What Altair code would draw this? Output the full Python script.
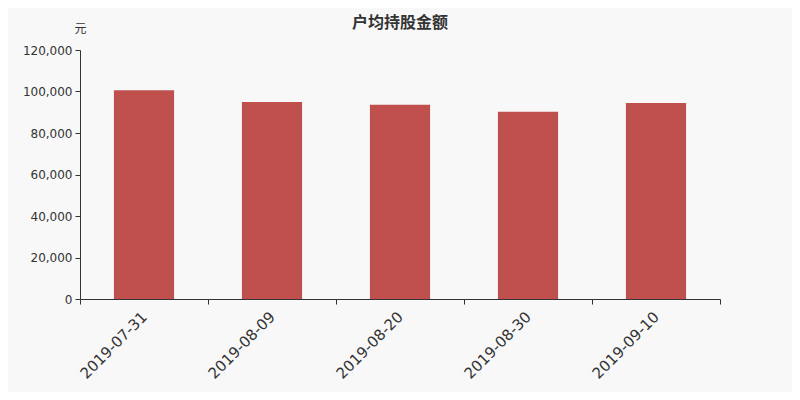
import altair as alt
import pandas as pd

dates = ["2019-07-31", "2019-08-09", "2019-08-20", "2019-08-30", "2019-09-10"]
values = [100600, 94900, 93600, 90200, 94500]

df = pd.DataFrame({"date": dates, "value": values})

FONT = "Noto Sans CJK SC"
LFONT = "DejaVu Sans"

chart = alt.Chart(df).mark_bar(color="#c0504d", width={"band": 0.47}).encode(
    x=alt.X("date:N", sort=dates,
            scale=alt.Scale(paddingInner=0, paddingOuter=0),
            axis=alt.Axis(title=None, labelAngle=-45, labelAlign="right",
                          labelBaseline="middle", labelFontSize=15,
                          labelColor="#333333", labelFont=LFONT, labelPadding=10,
                          tickBand="extent", tickSize=5, tickColor="#333333",
                          domainColor="#333333", grid=False)),
    y=alt.Y("value:Q",
            scale=alt.Scale(domain=[0, 120000]),
            axis=alt.Axis(title="元", titleAngle=0, titleX=0, titleY=-22,
                          titleAlign="center", titleBaseline="middle",
                          titleFontSize=12, titleFontWeight="normal",
                          titleColor="#333333", titleFont=FONT,
                          values=[0, 20000, 40000, 60000, 80000, 100000, 120000],
                          format=",d", labelFontSize=12, labelColor="#333333",
                          labelFont=LFONT, tickSize=5, tickColor="#333333",
                          domainColor="#333333", grid=False, labelPadding=3)),
).properties(
    width=640, height=249,
    title=alt.TitleParams("户均持股金额", fontSize=16, fontWeight="bold",
                          font=FONT, color="#333333", anchor="middle",
                          offset=-9),
    padding={"left": 72, "top": 42, "right": 72, "bottom": 93},
    autosize="none",
    background="#f8f8f8",
).configure_view(stroke=None)

chart.save("out.html", embed_options={"renderer": "svg", "actions": False})
